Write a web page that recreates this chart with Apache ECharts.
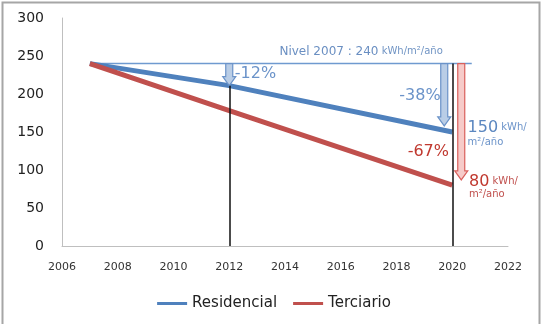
<!DOCTYPE html>
<html>
<head>
<meta charset="utf-8">
<script src="https://cdn.jsdelivr.net/npm/echarts@6/dist/echarts.min.js"></script>
<style>
  html, body { margin:0; padding:0; background:#fff; }
  #chart { width:548px; height:324px; }
</style>
</head>
<body>
<div id="chart"></div>
<script>
// data
var years = [2007, 2012, 2020];
var residencial = [240, 211, 150];
var terciario = [240, 178, 80];
var nivel2007 = [[2007, 240], [2020.7, 240]];
var xTicks = [2006, 2022, 2];
var yTicks = [0, 300, 50];
// arrows: x, from, to
var arrows = [[2012, 240, 211], [2020, 240, 158], [2020, 240, 87]];
// annotations: x, y, text
var notes = [
  [2012.2, 226, '{p|-12%}'],
  [2018.1, 197, '{p|-38%}'],
  [2018.4, 124, '{r|-67%}'],
  [2020.55, 156, '{b|150}{bs| kWh/}'],
  [2020.55, 136, '{bs|m²/año}'],
  [2020.6, 85, '{rb|80}{rs| kWh/}'],
  [2020.6, 68, '{rs|m²/año}'],
  [2013.8, 256, '{n|Nivel 2007 : 240}{ns| kWh/m²/año}']
];

var chart = echarts.init(document.getElementById('chart'));
var font = 'DejaVu Sans';
var arrowStyle = [
  {dx: 0, fill: '#b9cde6', stroke: '#6b93c9'},
  {dx: -8, fill: '#b9cde6', stroke: '#6b93c9'},
  {dx: 9, fill: '#f6cbc9', stroke: '#d9605c'}
];

function pair(xs, ys){
  return xs.map(function(x, i){ return [x, ys[i]]; });
}

var option = {
  animation: false,
  textStyle: {fontFamily: font},
  grid: {left: 62, right: 40, top: 18, bottom: 78},
  graphic: [{
    type: 'rect', shape: {x: 2.5, y: 2.5, width: 537, height: 340},
    style: {fill: 'none', stroke: '#a6a6a6', lineWidth: 2}, silent: true
  }],
  legend: {
    data: ['Residencial', 'Terciario'],
    bottom: 8, left: 'center', icon: 'rect', itemWidth: 30, itemHeight: 3, itemGap: 16,
    textStyle: {fontSize: 15, color: '#222', fontFamily: font}
  },
  xAxis: {
    type: 'value', min: xTicks[0], max: xTicks[1], interval: xTicks[2],
    axisLine: {show: true, lineStyle: {color: '#bfbfbf'}},
    axisTick: {show: false}, splitLine: {show: false},
    axisLabel: {fontSize: 11, color: '#333', margin: 16, fontFamily: font,
      formatter: function(v){ return String(v); }}
  },
  yAxis: {
    type: 'value', min: yTicks[0], max: yTicks[1], interval: yTicks[2],
    axisLine: {show: true, lineStyle: {color: '#bfbfbf'}},
    axisTick: {show: false}, splitLine: {show: false},
    axisLabel: {fontSize: 14, color: '#222', margin: 18, fontFamily: font}
  },
  series: [
    {
      name: 'Nivel', type: 'line', data: nivel2007, symbol: 'none', silent: true,
      lineStyle: {color: '#6f9ad0', width: 1.5}, z: 1
    },
    {
      name: 'Residencial', type: 'line', data: pair(years, residencial), symbol: 'none',
      color: '#4f81bd', lineStyle: {width: 5, color: '#4f81bd'}, z: 3,
      markLine: {
        silent: true, symbol: 'none', label: {show: false},
        lineStyle: {color: '#111', width: 1.5, type: 'solid'},
        data: [
          [{coord: [years[1], 0]}, {coord: [years[1], residencial[1]]}],
          [{coord: [years[2], 0]}, {coord: [years[2], nivel2007[0][1]]}]
        ]
      }
    },
    {
      name: 'Terciario', type: 'line', data: pair(years, terciario), symbol: 'none',
      color: '#c0504d', lineStyle: {width: 5, color: '#c0504d'}, z: 3
    },
    {
      name: 'arrows', type: 'custom', data: arrows, encode: {x: 0, y: [1, 2]}, z: 4, silent: true,
      renderItem: function(params, api){
        var s = arrowStyle[params.dataIndex];
        var top = api.coord([api.value(0), api.value(1)]);
        var bot = api.coord([api.value(0), api.value(2)]);
        var cx = top[0] + s.dx, y0 = top[1], y1 = bot[1];
        var hw = 3.5, hh = 6.5, hl = 9;
        return {
          type: 'polygon',
          shape: {points: [
            [cx - hw, y0], [cx + hw, y0], [cx + hw, y1 - hl], [cx + hh, y1 - hl],
            [cx, y1], [cx - hh, y1 - hl], [cx - hw, y1 - hl]
          ]},
          style: {fill: s.fill, stroke: s.stroke, lineWidth: 1.2}
        };
      }
    },
    {
      name: 'notes', type: 'custom', data: notes, encode: {x: 0, y: 1}, z: 5, silent: true,
      renderItem: function(params, api){
        var p = api.coord([api.value(0), api.value(1)]);
        return {
          type: 'text', x: p[0], y: p[1],
          style: {
            text: notes[params.dataIndex][2], verticalAlign: 'middle', align: 'left',
            fontFamily: font,
            rich: {
              p: {fontSize: 16, fill: '#6b93c9', fontFamily: font},
              r: {fontSize: 16, fill: '#c0392f', fontFamily: font},
              b: {fontSize: 16, fill: '#5b87c0', fontFamily: font},
              bs: {fontSize: 10, fill: '#6b93c9', fontFamily: font},
              rb: {fontSize: 16, fill: '#c0392f', fontFamily: font},
              rs: {fontSize: 10, fill: '#c0504d', fontFamily: font},
              n: {fontSize: 12, fill: '#6a8fc2', fontFamily: font},
              ns: {fontSize: 10, fill: '#7094c4', fontFamily: font}
            }
          }
        };
      }
    }
  ]
};
chart.setOption(option);
</script>
</body>
</html>
